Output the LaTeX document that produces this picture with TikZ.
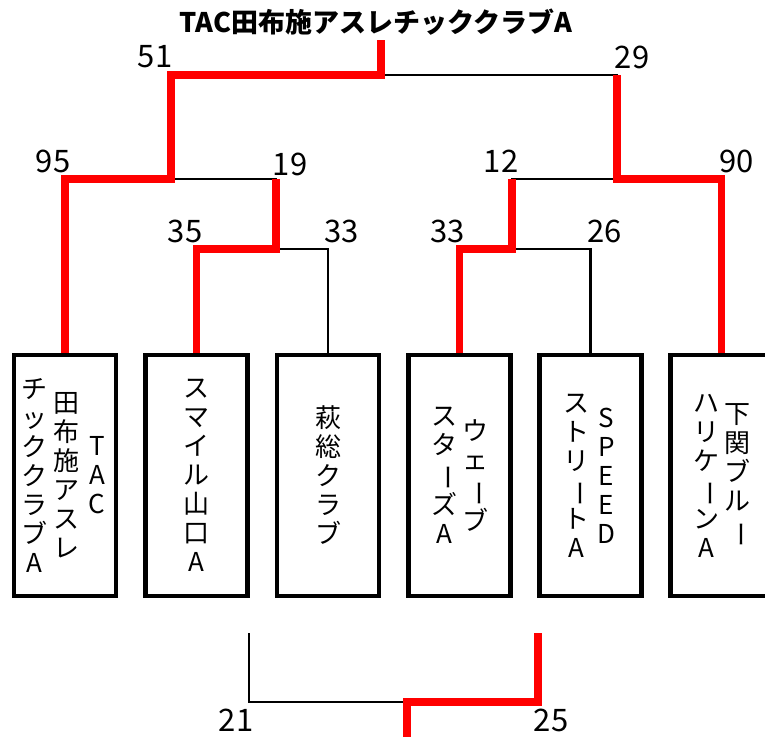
\documentclass[tikz,border=0pt]{standalone}
\usepackage{fontspec}
\setmainfont{Noto Sans CJK JP}
\tikzset{
  team/.style={rectangle, draw, line width=2.2pt, minimum width=51pt, minimum height=120.5pt, inner sep=0pt},
  vcol/.style={align=center, inner sep=0pt, font=\fontsize{13}{14.5}\selectfont},
  score/.style={inner sep=0pt, font=\fontsize{15.5}{15.5}\selectfont},
  lose/.style={line width=1.25pt},
  win/.style={red, line width=3.75pt},
}
\newcommand{\nobi}{\rotatebox[origin=c]{-90}{ー}}

\begin{document}
\begin{tikzpicture}[x=0.5pt, y=-0.5pt]
    \useasboundingbox (0,0) rectangle (765,737);
    %teams
    \node[team](b1) at (65,475.5) {};
    \node[team](b2) at (196.5,475.5) {};
    \node[team](b3) at (328,475.5) {};
    \node[team](b4) at (459.5,475.5) {};
    \node[team](b5) at (590.5,475.5) {};
    \node[team](b6) at (721.5,475.5) {};
    \node[vcol](t1a) at ([xshift=16pt]b1.center) {T\\A\\C};
    \node[vcol](t1b) at ([xshift=0.5pt]b1.center) {田\\布\\施\\ア\\ス\\レ};
    \node[vcol](t1c) at ([xshift=-15.5pt]b1.center) {チ\\ッ\\ク\\ク\\ラ\\ブ\\A};
    \node[vcol](t2) at (b2.center) {ス\\マ\\イ\\ル\\山\\口\\A};
    \node[vcol](t3) at (b3.center) {萩\\総\\ク\\ラ\\ブ};
    \node[vcol](t4a) at ([xshift=7.75pt]b4.center) {ウ\\ェ\\\nobi\\ブ};
    \node[vcol](t4b) at ([xshift=-7.75pt]b4.center) {ス\\タ\\\nobi\\ズ\\A};
    \node[vcol](t5a) at ([xshift=8pt]b5.center) {S\\P\\E\\E\\D};
    \node[vcol](t5b) at ([xshift=-7.25pt]b5.center) {ス\\ト\\リ\\\nobi\\ト\\A};
    \node[vcol](t6a) at ([xshift=8pt]b6.center) {下\\関\\ブ\\ル\\\nobi};
    \node[vcol](t6b) at ([xshift=-7.5pt]b6.center) {ハ\\リ\\ケ\\\nobi\\ン\\A};
    %junctions
    \coordinate (m23) at (276,249);
    \coordinate (m45) at (512,249);
    \coordinate (m123) at (171,179);
    \coordinate (m456) at (617,179);
    \coordinate (top) at (381,75);
    \coordinate (champ) at (381,40);
    %bracket
    \draw[lose] (b2.north) |- (m23) -| (b3.north);
    \draw[lose] (b4.north) |- (m45) -| (b5.north);
    \draw[lose] (b1.north) |- (m123) -| (m23);
    \draw[lose] (m45) |- (m456) -| (b6.north);
    \draw[lose] (m123) |- (top) -| (m456);
    \draw[win] (b2.north) |- (m23) -- (m23 |- m123);
    \draw[win] (b4.north) |- (m45) -- (m45 |- m456);
    \draw[win] (b6.north) |- (m456) -- (m456 |- top);
    \draw[win] (b1.north) |- (m123) |- (top) -- (champ);
    %third place
    \coordinate (s1) at (249,633);
    \coordinate (s2) at (538,633);
    \coordinate (sm) at (407,702);
    \coordinate (sw) at (407,745);
    \draw[lose] (s1) |- (sm);
    \draw[win] (s2) |- (sm) -- (sw);
    %scores
    \node[score](n51) at (155,57) {51};
    \node[score](n29) at (632,57) {29};
    \node[score](n95) at (53,161.5) {95};
    \node[score](n19) at (290,164) {19};
    \node[score](n12) at (501,161.5) {12};
    \node[score](n90) at (736.5,161.5) {90};
    \node[score](n35) at (185,231) {35};
    \node[score](n33a) at (341.5,231) {33};
    \node[score](n33b) at (447.5,231) {33};
    \node[score](n26) at (604.5,231) {26};
    \node[score](n21) at (236,720) {21};
    \node[score](n25) at (551,720) {25};
    \node[font=\bfseries\fontsize{13.5}{13.5}\selectfont](title) at (376,22) {TAC田布施アスレチッククラブA};
\end{tikzpicture}
\end{document}
